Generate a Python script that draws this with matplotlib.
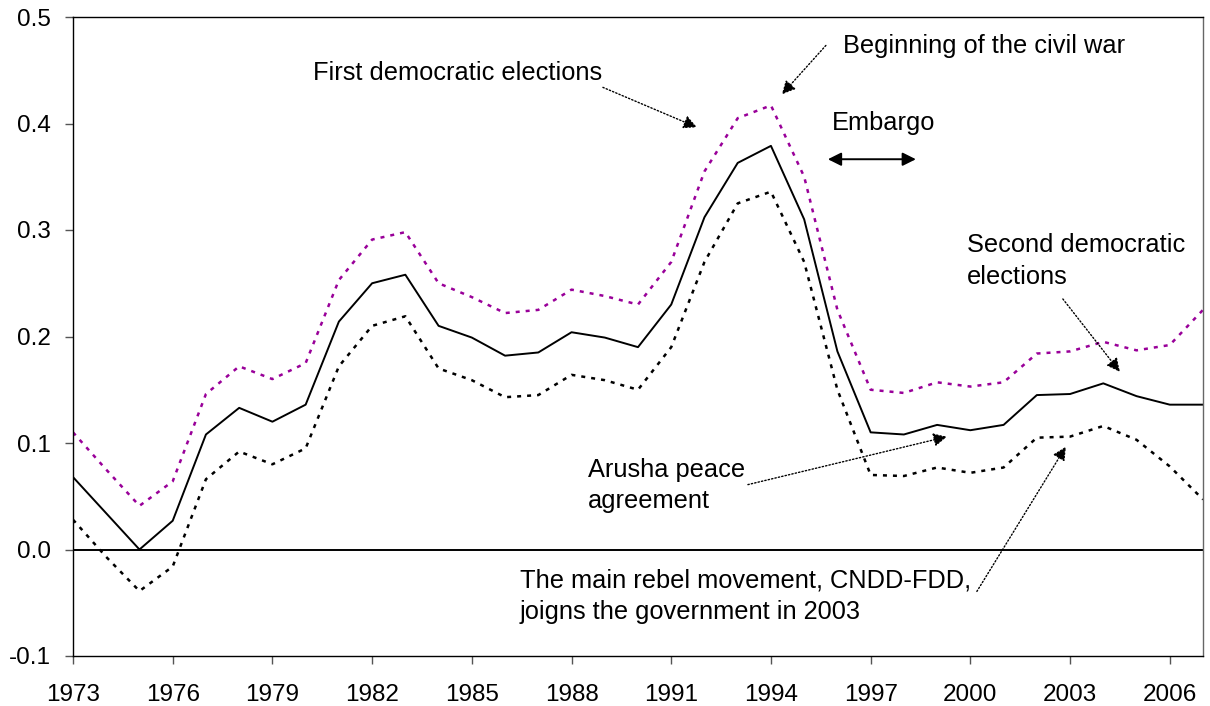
import matplotlib
matplotlib.use("Agg")
import matplotlib.pyplot as plt

years = list(range(1973, 2008))
estimate = [0.068, 0.034, 0.0, 0.027, 0.108, 0.133, 0.120, 0.136, 0.214, 0.250,
            0.258, 0.210, 0.199, 0.182, 0.185, 0.204, 0.199, 0.190, 0.230, 0.312,
            0.363, 0.379, 0.310, 0.186, 0.110, 0.108, 0.117, 0.112, 0.117, 0.145,
            0.146, 0.156, 0.144, 0.136, 0.136]
upper = [0.110, 0.075, 0.041, 0.064, 0.146, 0.172, 0.160, 0.175, 0.253, 0.291,
         0.298, 0.250, 0.237, 0.222, 0.225, 0.244, 0.238, 0.230, 0.270, 0.355,
         0.405, 0.417, 0.350, 0.225, 0.150, 0.147, 0.157, 0.153, 0.157, 0.184,
         0.186, 0.195, 0.187, 0.192, 0.225]
lower = [0.028, -0.007, -0.039, -0.016, 0.066, 0.092, 0.080, 0.095, 0.172, 0.210,
         0.219, 0.170, 0.159, 0.143, 0.145, 0.164, 0.159, 0.150, 0.190, 0.270,
         0.325, 0.336, 0.270, 0.150, 0.070, 0.069, 0.077, 0.072, 0.077, 0.105,
         0.106, 0.116, 0.103, 0.078, 0.047]
xticks = list(range(1973, 2007, 3))
yticks = [-0.1, 0.0, 0.1, 0.2, 0.3, 0.4, 0.5]

plt.rcParams['font.family'] = ['Liberation Sans', 'DejaVu Sans']
fig = plt.figure(figsize=(12.1, 7.06), dpi=100)
ax = fig.add_axes([73/1210, 1-656/706, (1203-73)/1210, (656-17)/706])

ax.plot(years, upper, color='#990099', lw=1.8, ls=(0, (1.6, 2.4)))
ax.plot(years, lower, color='black', lw=1.8, ls=(0, (1.6, 2.4)))
ax.plot(years, estimate, color='black', lw=1.4)
ax.axhline(0, color='black', lw=1.4)

ax.set_xlim(1973, 2007)
ax.set_ylim(-0.1, 0.5)
ax.set_xticks(xticks)
ax.set_xticklabels([str(x) for x in xticks])
ax.set_yticks(yticks)
ax.set_yticklabels(['%.1f' % y for y in yticks])
ax.tick_params(direction='out', length=6, width=1, color='#555555', labelsize=17.5)
ax.tick_params(axis='y', pad=10)
ax.tick_params(axis='x', pad=14)
for s in ax.spines.values():
    s.set_linewidth(1)
ax.spines['right'].set_color('#666666')

fs = 18.3
dotted_arrow = dict(arrowstyle='-|>', lw=1, ls=(0, (1, 1.5)), color='black',
                    mutation_scale=20, shrinkA=0, shrinkB=0)

def px2d(px, py):
    return 1973 + (px - 73) / 33.24, (550 - py) / 1067.0

ax.text(*px2d(313, 73), 'First democratic elections', fontsize=fs, ha='left', va='center')
ax.annotate('', xy=px2d(697, 127), xytext=px2d(603, 87), arrowprops=dotted_arrow)

ax.text(*px2d(843, 46), 'Beginning of the civil war', fontsize=fs, ha='left', va='center')
ax.annotate('', xy=px2d(782, 94), xytext=px2d(826, 45), arrowprops=dotted_arrow)

ax.text(*px2d(832, 123), 'Embargo', fontsize=fs, ha='left', va='center')
ax.annotate('', xy=px2d(916, 159), xytext=px2d(828, 159),
            arrowprops=dict(arrowstyle='<|-|>', lw=1.4, color='black', mutation_scale=20,
                            shrinkA=0, shrinkB=0))

ax.text(*px2d(967, 261), 'Second democratic\nelections', fontsize=fs, ha='left',
        va='center', linespacing=1.38)
ax.annotate('', xy=px2d(1120, 372), xytext=px2d(1063, 299), arrowprops=dotted_arrow)

ax.text(*px2d(588, 486), 'Arusha peace\nagreement', fontsize=fs, ha='left',
        va='center', linespacing=1.38)
ax.annotate('', xy=px2d(947, 437), xytext=px2d(748, 485), arrowprops=dotted_arrow)

ax.text(*px2d(520, 597), 'The main rebel movement, CNDD-FDD,\njoigns the government in 2003',
        fontsize=fs, ha='left', va='center', linespacing=1.38)
ax.annotate('', xy=px2d(1066, 447), xytext=px2d(977, 592), arrowprops=dotted_arrow)

fig.savefig('out.png', dpi=100)
